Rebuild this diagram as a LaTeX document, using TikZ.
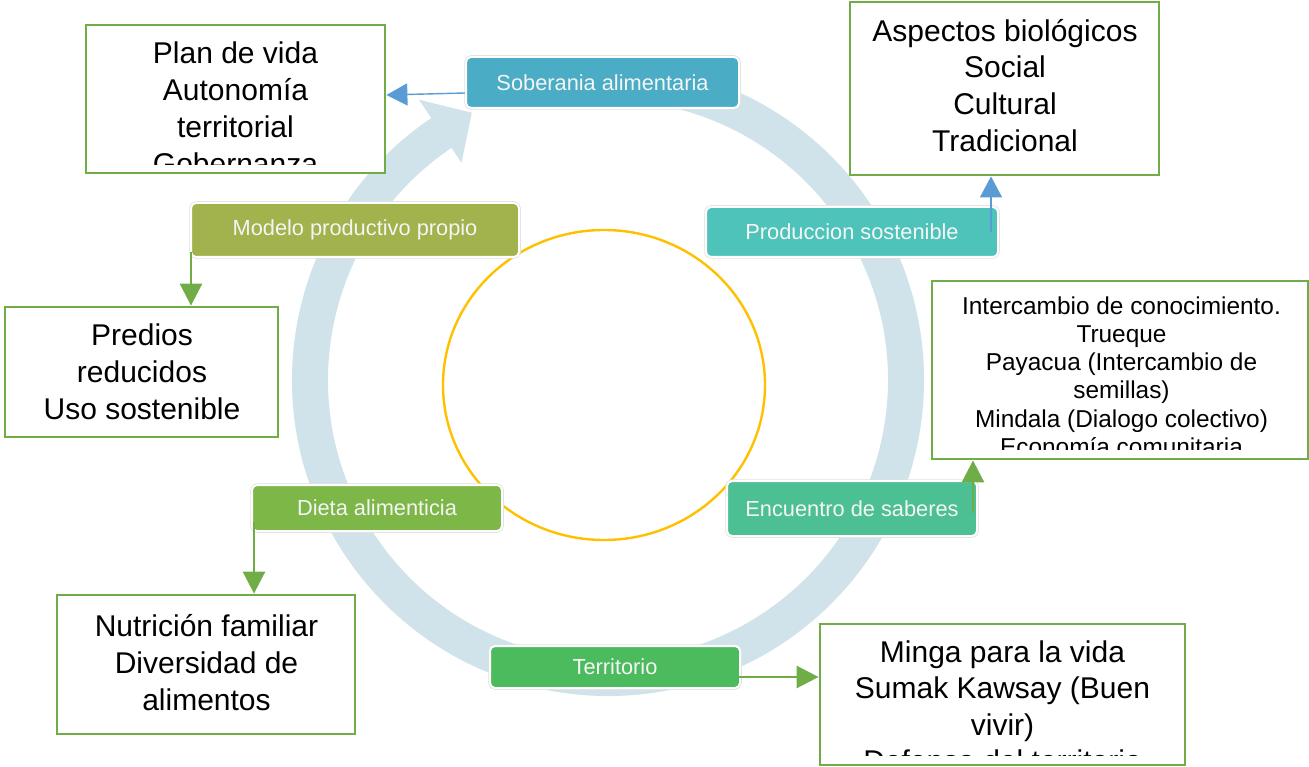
\documentclass[tikz,border=0pt]{standalone}
\usepackage{fontspec}
\setmainfont{Liberation Sans}
\usetikzlibrary{arrows.meta}
\definecolor{ringc}{RGB}{208,226,234}
\definecolor{yel}{RGB}{255,192,0}
\definecolor{grn}{RGB}{112,173,71}
\definecolor{blu}{RGB}{91,155,213}
\definecolor{cSob}{RGB}{75,172,198}
\definecolor{cProd}{RGB}{77,195,186}
\definecolor{cEnc}{RGB}{76,192,147}
\definecolor{cTer}{RGB}{76,187,94}
\definecolor{cDie}{RGB}{125,183,72}
\definecolor{cMod}{RGB}{162,178,76}
\begin{document}
\begin{tikzpicture}[x=1pt,y=-1pt,
  lbl/.style={rectangle, rounded corners=5pt, inner sep=0pt,
    preaction={draw=black!12, line width=3.5pt},
    draw=white, line width=2pt, text=white!96!black,
    font=\fontsize{21.8}{25}\selectfont},
  tbox/.style={rectangle, draw=grn, line width=2.8pt, fill=white, inner sep=0pt},
  bigtxt/.style={inner sep=0pt, align=center, anchor=north, text=black},
  barrow/.style={draw=blu, line width=1.4pt, -{Triangle[length=21pt,width=22pt]}},
  garrow/.style={draw=grn, line width=2.7pt, -{Triangle[length=22pt,width=22pt]}}]
\useasboundingbox (0,0) rectangle (1309,767);
% circular arrow
\begin{scope}[shift={(608,380)}]
\fill[ringc] (-80:316) arc[start angle=-80,end angle=236,radius=316]
  -- (236:338) -- (243:300) -- (236:262) -- (236:280)
  arc[start angle=236,end angle=-80,radius=280] -- cycle;
\end{scope}
% central circle
\draw[yel, line width=2.4pt] (604,385) ellipse [x radius=161, y radius=155];
% cycle labels
\node[lbl, fill=cSob, minimum width=273pt, minimum height=51pt] (sob) at (602.5,82.5) {Soberania alimentaria};
\node[lbl, fill=cProd, minimum width=292pt, minimum height=50pt] (prod) at (852,232) {Produccion sostenible};
\node[lbl, fill=cEnc, minimum width=250pt, minimum height=55pt] (enc) at (852,508.5) {Encuentro de saberes};
\node[lbl, fill=cTer, minimum width=250pt, minimum height=42pt] (terr) at (615,667) {Territorio};
\node[lbl, fill=cDie, minimum width=250pt, minimum height=46pt] (diet) at (377,508) {Dieta alimenticia};
\node[lbl, fill=cMod, minimum width=328pt, minimum height=54pt] (mod) at (355,230) {Modelo productivo propio};
% text boxes
\node[tbox, minimum width=299pt, minimum height=148pt] (plan) at (235.5,99) {};
\node[tbox, minimum width=309pt, minimum height=173pt] (asp) at (1004.5,88.5) {};
\node[tbox, minimum width=376pt, minimum height=178pt] (inter) at (1120,370) {};
\node[tbox, minimum width=273pt, minimum height=130pt] (pred) at (141.5,372) {};
\node[tbox, minimum width=298pt, minimum height=139pt] (nut) at (206,664.5) {};
\node[tbox, minimum width=365pt, minimum height=141pt] (minga) at (1002.5,694.5) {};
\begin{scope}
\clip ([xshift=2pt,yshift=10pt]plan.south west) rectangle ([xshift=-2pt,yshift=-2pt]plan.north east);
\node[bigtxt, font=\fontsize{30}{37}\selectfont] (plantxt) at (235.5,40) {\rule{0pt}{23pt}Plan de vida\\Autonomía\\territorial\\Gobernanza};
\end{scope}
\node[bigtxt, font=\fontsize{30}{36.7}\selectfont] (asptxt) at (1005,18) {\rule{0pt}{23pt}Aspectos biológicos\\Social\\Cultural\\Tradicional};
\begin{scope}
\clip ([xshift=2pt,yshift=11pt]inter.south west) rectangle ([xshift=-2pt,yshift=-2pt]inter.north east);
\node[bigtxt, font=\fontsize{24.4}{28.25}\selectfont] (intertxt) at (1121.5,295) {\rule{0pt}{19pt}Intercambio de conocimiento.\\Trueque\\Payacua (Intercambio de\\semillas)\\Mindala (Dialogo colectivo)\\Economía comunitaria};
\end{scope}
\node[bigtxt, font=\fontsize{30}{37}\selectfont] (predtxt) at (142,322) {\rule{0pt}{23pt}Predios\\reducidos\\Uso sostenible};
\node[bigtxt, font=\fontsize{30}{37}\selectfont] (nuttxt) at (206.5,613) {\rule{0pt}{23pt}Nutrición familiar\\Diversidad de\\alimentos};
\begin{scope}
\clip ([xshift=2pt,yshift=11pt]minga.south west) rectangle ([xshift=-2pt,yshift=-2pt]minga.north east);
\node[bigtxt, font=\fontsize{30}{36.5}\selectfont] (mingatxt) at (1002.5,639) {\rule{0pt}{23pt}Minga para la vida\\Sumak Kawsay (Buen\\vivir)\\Defensa del territorio};
\end{scope}
% connectors
\coordinate (a1) at ([yshift=-10.5pt]sob.west);
\draw[barrow] (a1) -- ([yshift=4pt]plan.east);
\coordinate (a2) at ([xshift=-8pt]prod.east);
\draw[barrow] (a2) -- (a2 |- asp.south);
\coordinate (a3) at ([xshift=1pt,yshift=6pt]mod.south west);
\draw[garrow] (a3) -- (a3 |- pred.north);
\coordinate (a4) at ([xshift=3pt,yshift=10pt]diet.south west);
\draw[garrow] (a4) -- (a4 |- nut.north);
\coordinate (a5) at ([xshift=-5pt,yshift=-4pt]enc.east);
\draw[garrow] (a5) -- (a5 |- inter.south);
\coordinate (a6) at ([xshift=-2pt,yshift=-10pt]terr.east);
\draw[garrow] (a6) -- (a6 -| minga.west);
\end{tikzpicture}
\end{document}
